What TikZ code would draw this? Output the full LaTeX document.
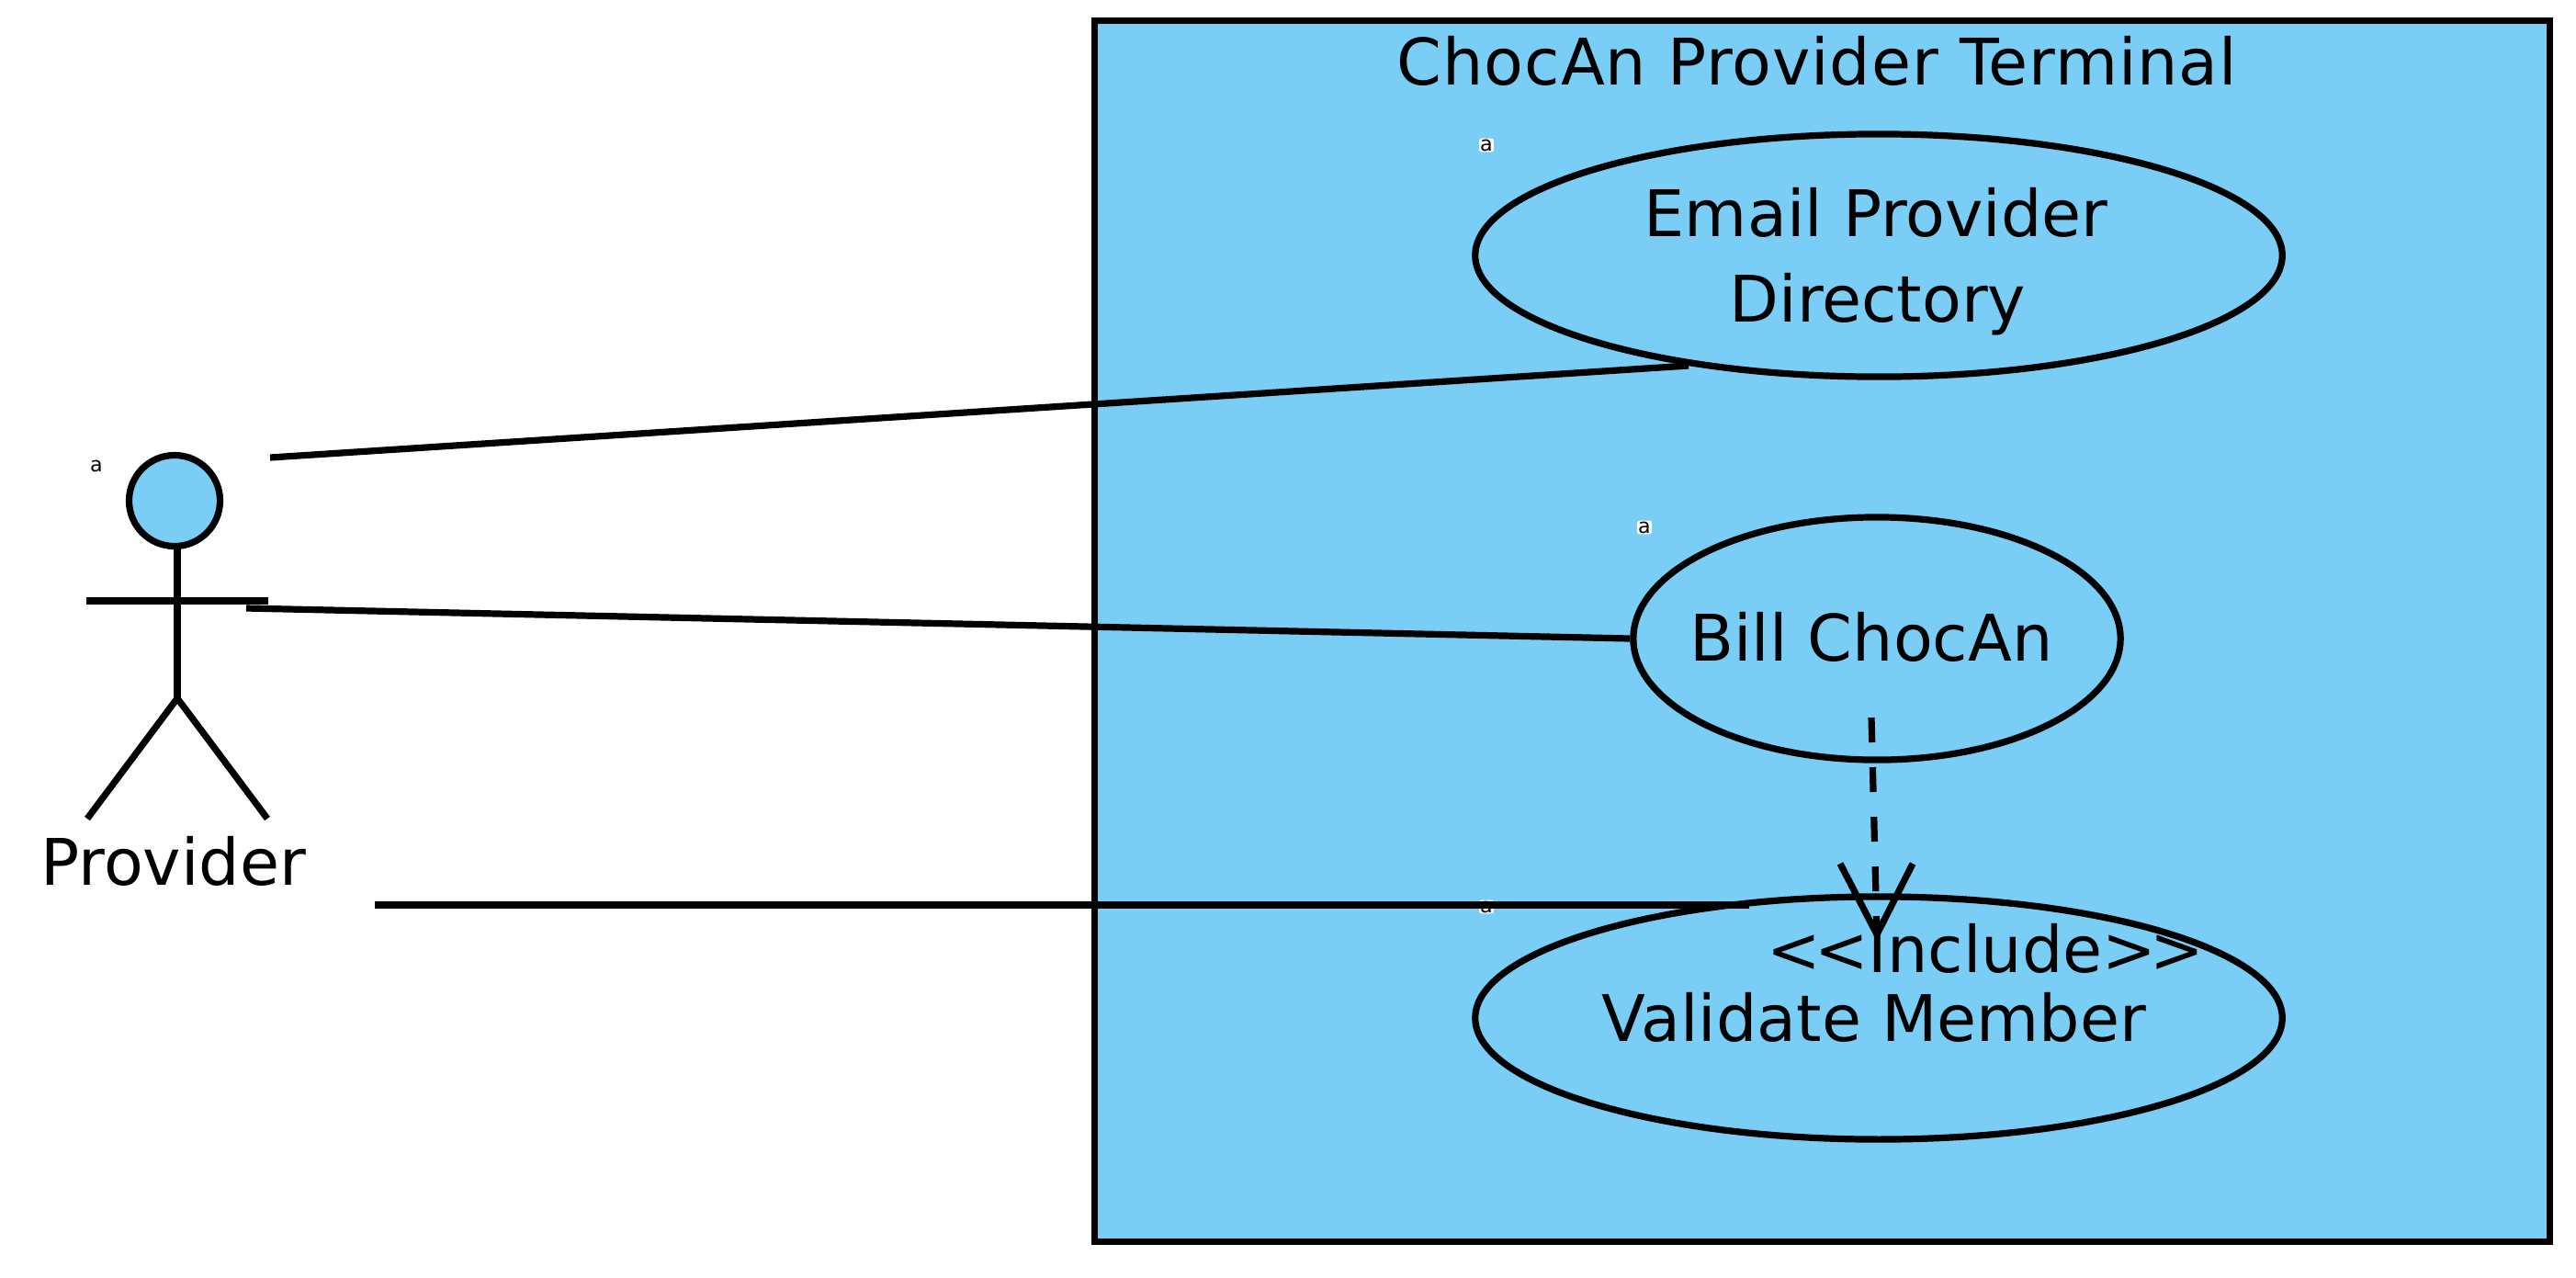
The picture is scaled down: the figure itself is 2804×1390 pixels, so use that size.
\documentclass[tikz,border=0pt]{standalone}
\usepackage{fontspec}
\setmainfont{DejaVu Sans}
\newfontfamily\titlefont[LetterSpace=1.3]{DejaVu Sans}
\usetikzlibrary{shapes.geometric}
\definecolor{sky}{RGB}{122,206,245}
\tikzset{
  x=0.01cm,y=-0.01cm,
  ln/.style={line width=0.072cm,black,line cap=butt},
  usecase/.style={ellipse,draw=black,line width=0.072cm,fill=sky,inner sep=0pt,minimum width=8.78cm,minimum height=2.64cm},
  lbl/.style={anchor=base,inner sep=0pt,font=\fontsize{19.9pt}{24pt}\selectfont,text=black},
  tiny/.style={fill=white,inner sep=0.3pt,rounded corners=0.5pt,font=\fontsize{6.3pt}{7pt}\selectfont,text=black}
}
\begin{document}
\begin{tikzpicture}
\useasboundingbox (0,0) rectangle (2804,1390);
\fill[white] (0,0) rectangle (2804,1390);
\node[draw=black,line width=0.072cm,fill=sky,minimum width=15.83cm,minimum height=13.28cm,inner sep=0pt,anchor=north west] (frame) at (1188,19) {};
\node[usecase] (email) at (2045,278) {};
\node[usecase,minimum width=5.3cm] (bill) at (2043,695) {};
\node[usecase] (validate) at (2045,1108) {};
\node[lbl,font=\fontsize{19.9pt}{24pt}\titlefont] (title) at (1978,92) {ChocAn Provider Terminal};
\node[lbl] (t1) at (2042,257) {Email Provider};
\node[lbl] (t2) at (2044,350) {Directory};
\node[lbl] (t3) at (2037,719) {Bill ChocAn};
\node[lbl] (t4) at (2040,1133) {Validate Member};
\node[lbl] (inc) at (2161,1058) {\char60\kern-0.07cm\char60 Include\char62\kern-0.07cm\char62};
\node[lbl] (prov) at (189,963) {Provider};
\node[tiny] (a1) at (1618,158) {a};
\node[tiny] (a2) at (1790,574) {a};
\node[tiny] (a3) at (1618,987) {a};
\node[tiny,fill=none] (a4) at (105,507) {a};
% actor
\node[circle,draw=black,line width=0.072cm,fill=sky,minimum size=0.99cm,inner sep=0pt] (head) at (190,545) {};
\coordinate (neck) at (193,595);
\coordinate (hip) at (193,760);
\coordinate (armL) at (94,654);
\coordinate (armR) at (292,654);
\coordinate (legL) at (95,891);
\coordinate (legR) at (291,891);
\draw[ln] (neck) -- (hip);
\draw[ln] (armL) -- (armR);
\draw[ln] (legL) -- (hip) -- (legR);
% connectors
\coordinate (c1s) at (294,498);
\coordinate (c1e) at (1838,398);
\coordinate (c2s) at (268,662);
\coordinate (c3s) at (408,985);
\coordinate (c3e) at (1904,985);
\coordinate (d1) at (2037,781);
\coordinate (tip) at (2043,1017);
\coordinate (hl) at (2003,940);
\coordinate (hr) at (2082,940);
\draw[ln] (c1s) -- (c1e);
\draw[ln] (c2s) -- (bill.west);
\draw[ln] (c3s) -- (c3e);
\draw[ln,dash pattern=on 0.27cm off 0.27cm] (d1) -- (tip);
\draw[ln] (hl) -- (tip) -- (hr);
\end{tikzpicture}
\end{document}
